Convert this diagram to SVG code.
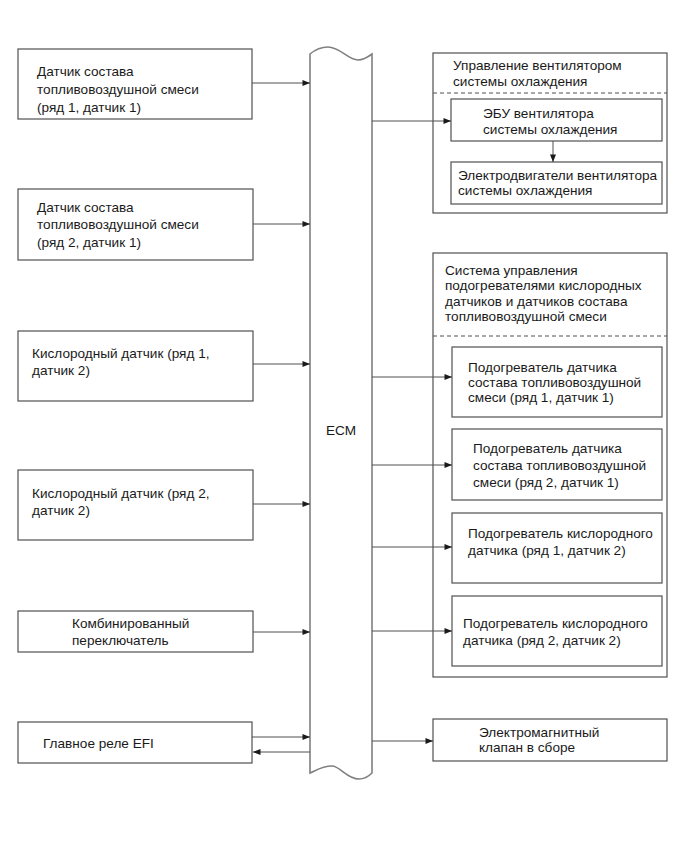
<svg xmlns="http://www.w3.org/2000/svg" width="690" height="854" viewBox="0 0 690 854">
<style>
text{font-family:"Liberation Sans",Arial,sans-serif;font-size:13.6px;fill:#1a1a1a}
.box{fill:#fff;stroke:#505050;stroke-width:1.2}
.ecm{fill:#fff;stroke:#808080;stroke-width:1.6}
.dash{stroke:#505050;stroke-width:1;stroke-dasharray:4 3;fill:none}
.con{stroke:#505050;stroke-width:1;fill:none;marker-end:url(#ah)}
</style>
<defs>
<marker id="ah" viewBox="0 0 10 8" refX="10" refY="4" markerWidth="8" markerHeight="6" markerUnits="userSpaceOnUse" orient="auto">
<path d="M0,0 L10,4 L0,8 Z" fill="#1a1a1a"/>
</marker>
</defs>
<rect width="690" height="854" fill="#fff"/>

<g id="ecm">
<path class="ecm" d="M310,54 C316,49 321,47 328,47 C340,47 348,60 358,60 C363,60 368,57 372,54 L372,773 C368,777 364,779 359,779 C347,779 340,766 332,766 C322,766 315,771 310,773 Z"/>
<text x="341" y="435" text-anchor="middle">ECM</text>
</g>

<g id="afs1">
<rect class="box" x="18" y="49" width="234" height="70"/>
<text x="37" y="76">Датчик состава</text>
<text x="37" y="94">топливовоздушной смеси</text>
<text x="37" y="112">(ряд 1, датчик 1)</text>
</g>
<g id="afs2">
<rect class="box" x="18" y="189" width="235" height="71"/>
<text x="37" y="212">Датчик состава</text>
<text x="37" y="229">топливовоздушной смеси</text>
<text x="37" y="247">(ряд 2, датчик 1)</text>
</g>
<g id="o2s1">
<rect class="box" x="18" y="331" width="235" height="70"/>
<text x="32" y="358">Кислородный датчик (ряд 1,</text>
<text x="32" y="375">датчик 2)</text>
</g>
<g id="o2s2">
<rect class="box" x="18" y="470" width="235" height="70"/>
<text x="32" y="498">Кислородный датчик (ряд 2,</text>
<text x="32" y="515">датчик 2)</text>
</g>
<g id="combsw">
<rect class="box" x="18" y="611" width="235" height="41"/>
<text x="72" y="628">Комбинированный</text>
<text x="72" y="645">переключатель</text>
</g>
<g id="efi">
<rect class="box" x="18" y="722" width="234" height="41"/>
<text x="43" y="748">Главное реле EFI</text>
</g>

<g id="fan">
<rect class="box" x="433" y="53" width="234" height="160"/>
<text x="453" y="70">Управление вентилятором</text>
<text x="453" y="86">системы охлаждения</text>
<line class="dash" x1="433" y1="93" x2="667" y2="93"/>
</g>
<g id="fanecu">
<rect class="box" x="451" y="99" width="211" height="42"/>
<text x="483" y="118">ЭБУ вентилятора</text>
<text x="483" y="134">системы охлаждения</text>
</g>
<g id="fanmotor">
<rect class="box" x="451" y="162" width="211" height="42"/>
<text x="458" y="180">Электродвигатели вентилятора</text>
<text x="458" y="195">системы охлаждения</text>
</g>

<g id="heaters">
<rect class="box" x="433" y="253" width="234" height="424"/>
<text x="445" y="275">Система управления</text>
<text x="445" y="290">подогревателями кислородных</text>
<text x="445" y="306">датчиков и датчиков состава</text>
<text x="445" y="321">топливовоздушной смеси</text>
<line class="dash" x1="433" y1="336" x2="667" y2="336"/>
</g>
<g id="h1">
<rect class="box" x="452" y="347" width="210" height="70"/>
<text x="468" y="372">Подогреватель датчика</text>
<text x="468" y="387">состава топливовоздушной</text>
<text x="468" y="402">смеси (ряд 1, датчик 1)</text>
</g>
<g id="h2">
<rect class="box" x="452" y="429" width="210" height="71"/>
<text x="473" y="453">Подогреватель датчика</text>
<text x="473" y="470">состава топливовоздушной</text>
<text x="473" y="487">смеси (ряд 2, датчик 1)</text>
</g>
<g id="h3">
<rect class="box" x="452" y="513" width="210" height="70"/>
<text x="468" y="538">Подогреватель кислородного</text>
<text x="468" y="555">датчика (ряд 1, датчик 2)</text>
</g>
<g id="h4">
<rect class="box" x="452" y="596" width="210" height="70"/>
<text x="463" y="628">Подогреватель кислородного</text>
<text x="463" y="645">датчика (ряд 2, датчик 2)</text>
</g>

<g id="solenoid">
<rect class="box" x="433" y="719" width="234" height="42"/>
<text x="479" y="737">Электромагнитный</text>
<text x="479" y="752">клапан в сборе</text>
</g>

<g id="connectors">
<line class="con" x1="252" y1="83" x2="310" y2="83"/>
<line class="con" x1="253" y1="224" x2="310" y2="224"/>
<line class="con" x1="253" y1="364" x2="310" y2="364"/>
<line class="con" x1="253" y1="504" x2="310" y2="504"/>
<line class="con" x1="253" y1="632" x2="310" y2="632"/>
<line class="con" x1="252" y1="737" x2="310" y2="737"/>
<line class="con" x1="310" y1="752" x2="253" y2="752"/>
<line class="con" x1="372" y1="121" x2="451" y2="121"/>
<line class="con" x1="553" y1="141" x2="553" y2="162"/>
<line class="con" x1="372" y1="377" x2="452" y2="377"/>
<line class="con" x1="372" y1="465" x2="452" y2="465"/>
<line class="con" x1="372" y1="547" x2="452" y2="547"/>
<line class="con" x1="372" y1="631" x2="452" y2="631"/>
<line class="con" x1="372" y1="741" x2="433" y2="741"/>
</g>
</svg>
